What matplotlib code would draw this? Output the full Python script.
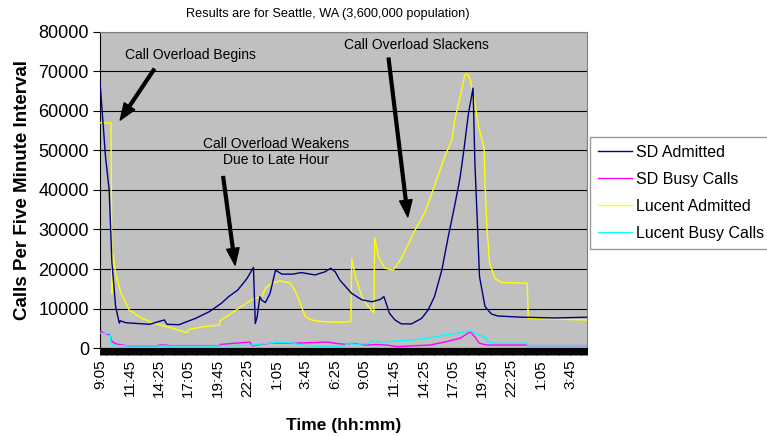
import matplotlib
matplotlib.use("Agg")
import matplotlib.pyplot as plt
from matplotlib.ticker import MultipleLocator

plt.rcParams['font.family'] = ['Liberation Sans', 'DejaVu Sans']

# x positions are 5-minute intervals counted from 9:05
tick_labels = ["9:05", "11:45", "14:25", "17:05", "19:45", "22:25", "1:05", "3:45",
               "6:25", "9:05", "11:45", "14:25", "17:05", "19:45", "22:25", "1:05", "3:45"]
n_intervals = 530

sd_adm_x = [0, 6, 10, 13, 17, 21, 22, 28, 54, 64, 70, 73, 86, 104, 119, 132, 140, 150,
            160, 167, 169, 171, 174, 176, 180, 185, 191, 198, 210, 219, 234, 245, 251,
            256, 261, 264, 274, 285, 296, 305, 309, 315, 321, 328, 339, 350, 357, 364,
            372, 379, 385, 390, 392, 396, 401, 406, 408, 411, 413, 419, 426, 433, 459,
            495, 530]
sd_adm_y = [67400, 48400, 40000, 21500, 10500, 6300, 6900, 6400, 6000, 6700, 7100, 6000,
            5900, 7500, 9200, 11300, 13000, 14700, 17600, 20400, 6200, 7900, 13000, 12100,
            11500, 13800, 19700, 18700, 18700, 19100, 18500, 19300, 20200, 19300, 17200,
            16400, 13800, 12200, 11700, 12300, 13000, 8800, 7100, 6100, 6100, 7500, 9600,
            13000, 19700, 28200, 34900, 40800, 43400, 50100, 59400, 65800, 46800, 29900,
            18100, 10500, 8600, 8100, 7800, 7600, 7800]

lu_adm_x = [0, 12, 13, 14, 17, 23, 32, 46, 61, 79, 94, 97, 112, 130, 131, 143, 154, 165,
            176, 180, 187, 196, 207, 212, 218, 223, 230, 241, 261, 273, 274, 278, 285,
            292, 298, 299, 303, 310, 319, 328, 343, 354, 365, 375, 383, 386, 392, 397,
            400, 403, 408, 412, 418, 419, 421, 424, 430, 437, 465, 466, 495, 530]
lu_adm_y = [57000, 57000, 13800, 24000, 18900, 13800, 9600, 7500, 6100, 5000, 3900, 4700,
            5400, 5800, 7000, 8800, 10500, 12200, 13000, 15100, 16400, 17000, 16400, 14700,
            11300, 8100, 7100, 6700, 6500, 6700, 22500, 18100, 13000, 10500, 8900, 28000,
            23100, 20200, 19700, 22700, 29900, 34500, 41700, 48400, 52700, 57700, 63600,
            69100, 69400, 67900, 62000, 56000, 50600, 41700, 30700, 21400, 17600, 16600,
            16400, 7500, 7300, 7100]

sd_busy_x = [0, 5, 11, 13, 18, 24, 33, 63, 64, 71, 76, 130, 131, 152, 163, 166, 170, 188,
             209, 247, 256, 268, 274, 290, 301, 312, 323, 359, 377, 392, 403, 408, 413,
             421, 464, 466, 530]
sd_busy_y = [4300, 3700, 3300, 1600, 1000, 750, 500, 500, 750, 750, 600, 600, 900, 1300,
             1500, 500, 750, 1300, 1200, 1500, 1200, 900, 1200, 750, 900, 750, 350, 750,
             1600, 2500, 4100, 2800, 1200, 750, 750, 600, 600]

lu_busy_x = [0, 11, 12, 14, 22, 40, 130, 131, 165, 170, 185, 192, 209, 218, 232, 264, 274,
             276, 292, 296, 307, 323, 338, 357, 375, 393, 403, 410, 419, 422, 430, 464,
             466, 530]
lu_busy_y = [3700, 3700, 1200, 750, 600, 500, 500, 600, 680, 900, 1200, 1500, 1300, 750,
             500, 500, 1300, 900, 1100, 1800, 1500, 1800, 2000, 2500, 3300, 3900, 4300,
             3500, 2800, 1600, 1200, 1200, 600, 600]

fig = plt.figure(figsize=(7.67, 4.36), dpi=100)
ax = fig.add_axes([100 / 767, 88 / 436, 487 / 767, 316 / 436])
ax.set_facecolor('#c0c0c0')

ax.plot(sd_adm_x, sd_adm_y, color='#000080', lw=1.0, label='SD Admitted', zorder=4)
ax.plot(sd_busy_x, sd_busy_y, color='#ff00ff', lw=1.0, label='SD Busy Calls', zorder=3)
ax.plot(lu_adm_x, lu_adm_y, color='#ffff00', lw=1.0, label='Lucent Admitted', zorder=3)
ax.plot(lu_busy_x, lu_busy_y, color='#00ffff', lw=1.0, label='Lucent Busy Calls', zorder=3)

ax.set_xlim(0, n_intervals)
ax.set_ylim(0, 80000)
ax.yaxis.set_major_locator(MultipleLocator(10000))
ax.grid(axis='y', color='black', lw=0.8)
ax.set_axisbelow(True)

ax.set_xticks(range(0, 32 * len(tick_labels), 32))
ax.set_xticklabels(tick_labels, rotation=90, fontsize=11)
ax.xaxis.set_minor_locator(MultipleLocator(1))
ax.tick_params(axis='x', which='both', direction='out', length=5, width=0.7, color='black', pad=3)
ax.tick_params(axis='y', direction='out', length=5, width=0.8, labelsize=13, pad=3)

for s in ('top', 'right'):
    ax.spines[s].set_color('#808080')
ax.spines['left'].set_color('black')
ax.spines['bottom'].set_color('black')

ax.set_ylabel('Calls Per Five Minute Interval', fontsize=13.5, fontweight='bold', labelpad=5)
ax.set_xlabel('Time (hh:mm)', fontsize=12.5, fontweight='bold', labelpad=15)

fig.text(328 / 767, 1 - 14 / 436, 'Results are for Seattle, WA (3,600,000 population)',
         ha='center', va='center', fontsize=9.2)

arrow = dict(facecolor='black', edgecolor='black', width=2.0, headwidth=9, headlength=12, shrink=0)
ax.text(98, 74100, 'Call Overload Begins', ha='center', va='center', fontsize=10)
ax.annotate('', xy=(22, 57700), xytext=(59, 70600), arrowprops=arrow)
ax.text(192, 49600, 'Call Overload Weakens\nDue to Late Hour', ha='center', va='center',
        fontsize=10, linespacing=1.25)
ax.annotate('', xy=(147, 21000), xytext=(134, 43400), arrowprops=arrow)
ax.text(344, 76700, 'Call Overload Slackens', ha='center', va='center', fontsize=10)
ax.annotate('', xy=(335, 33200), xytext=(314, 73400), arrowprops=arrow)

leg = fig.legend(loc='upper left', bbox_to_anchor=(590 / 767, 1 - 137 / 436), fontsize=11.5,
                 frameon=True, fancybox=False, handlelength=2.1, handletextpad=0.3,
                 borderpad=0.5, labelspacing=0.75, borderaxespad=0)
leg.get_frame().set_edgecolor('#808080')
leg.get_frame().set_linewidth(1.0)

fig.savefig('out.png', dpi=100)
